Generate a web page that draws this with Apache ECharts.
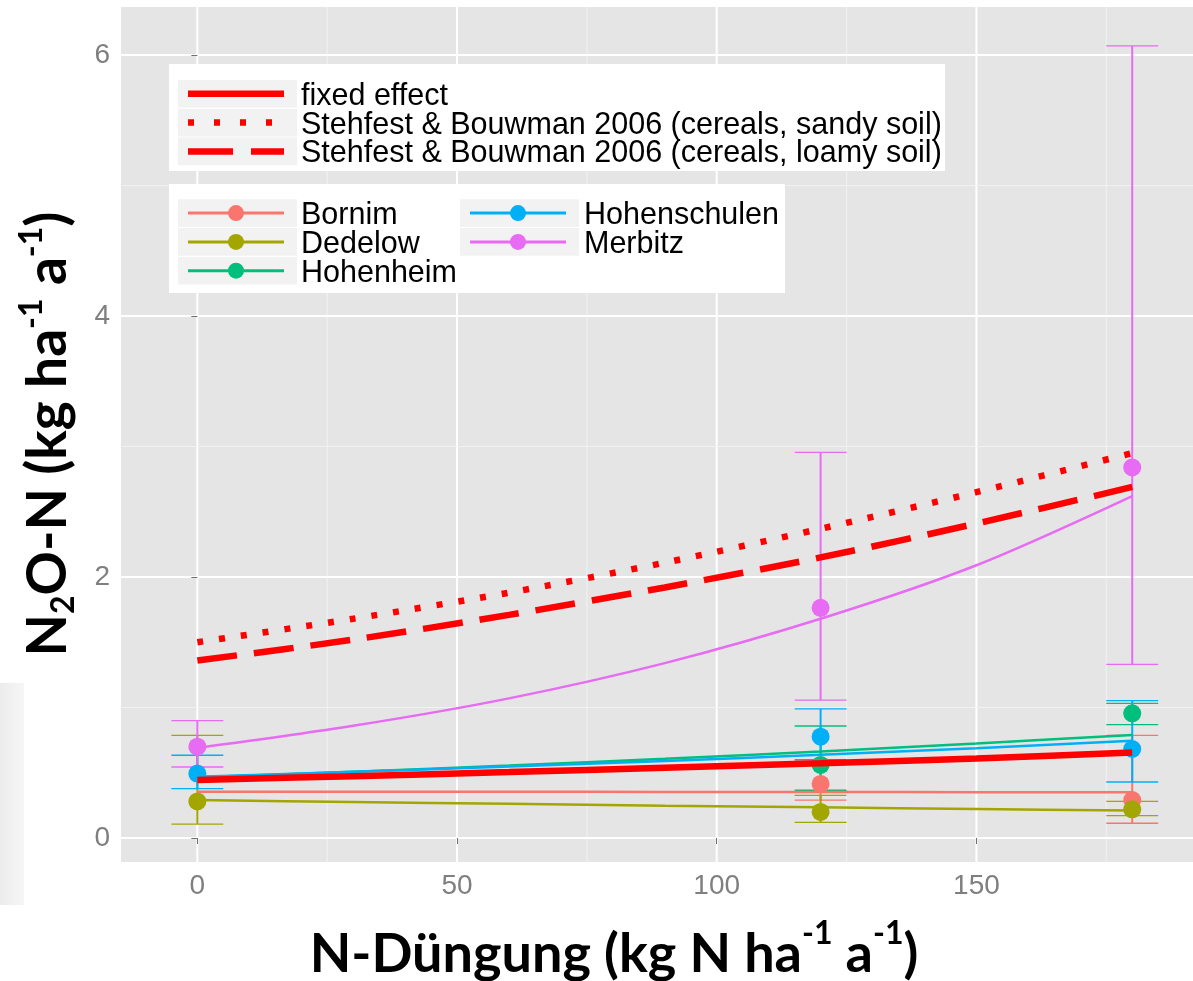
<!DOCTYPE html>
<html>
<head>
<meta charset="utf-8">
<script src="https://cdn.jsdelivr.net/npm/echarts@6/dist/echarts.min.js"></script>
<style>
html,body{margin:0;padding:0;background:#fff;}
#chart{width:1193px;height:981px;}
</style>
</head>
<body>
<div id="chart"></div>
<script>
// ---------- data ----------
const xTicks = [0, 50, 100, 150];
const xMinor = [25, 75, 125, 175];
const yTicks = [0, 2, 4, 6];
const yMinor = [1, 3, 5];

const fitX = [0, 30, 60, 90, 120, 150, 180];
const fixedEffect = [0.444, 0.474, 0.505, 0.538, 0.572, 0.610, 0.655];
const sandySoil   = [1.50, 1.68, 1.88, 2.11, 2.37, 2.65, 2.95];
const loamySoil   = [1.36, 1.52, 1.71, 1.92, 2.15, 2.41, 2.69];

const sites = ['Bornim', 'Dedelow', 'Hohenheim', 'Hohenschulen', 'Merbitz'];
const siteColors = ['#F8766D', '#A3A500', '#00BF7D', '#00B0F6', '#E76BF3'];

const fitBornim       = [0.355, 0.355, 0.354, 0.353, 0.352, 0.351, 0.350];
const fitDedelow      = [0.291, 0.276, 0.262, 0.248, 0.235, 0.222, 0.210];
const fitHohenheim    = [0.465, 0.508, 0.555, 0.607, 0.663, 0.725, 0.790];
const fitHohenschulen = [0.470, 0.507, 0.547, 0.590, 0.637, 0.688, 0.745];
const fitMerbitz      = [0.69, 0.86, 1.07, 1.34, 1.68, 2.09, 2.62];

// observations: N rate, mean, lower, upper
const obsBornimX = [120, 180];
const obsBornimY = [0.414, 0.291];
const obsBornimLo = [0.29, 0.113];
const obsBornimHi = [0.59, 0.787];

const obsDedelowX = [0, 120, 180];
const obsDedelowY = [0.28, 0.20, 0.22];
const obsDedelowLo = [0.107, 0.12, 0.171];
const obsDedelowHi = [0.787, 0.326, 0.281];

const obsHohenheimX = [120, 180];
const obsHohenheimY = [0.56, 0.955];
const obsHohenheimLo = [0.366, 0.868];
const obsHohenheimHi = [0.858, 1.032];

const obsHohenschulenX = [0, 120, 180];
const obsHohenschulenY = [0.494, 0.776, 0.682];
const obsHohenschulenLo = [0.378, 0.60, 0.429];
const obsHohenschulenHi = [0.634, 0.99, 1.052];

const obsMerbitzX = [0, 120, 180];
const obsMerbitzY = [0.70, 1.764, 2.84];
const obsMerbitzLo = [0.544, 1.057, 1.33];
const obsMerbitzHi = [0.899, 2.955, 6.07];

const fits = [fitBornim, fitDedelow, fitHohenheim, fitHohenschulen, fitMerbitz];
const obs = [
  [obsBornimX, obsBornimY, obsBornimLo, obsBornimHi],
  [obsDedelowX, obsDedelowY, obsDedelowLo, obsDedelowHi],
  [obsHohenheimX, obsHohenheimY, obsHohenheimLo, obsHohenheimHi],
  [obsHohenschulenX, obsHohenschulenY, obsHohenschulenLo, obsHohenschulenHi],
  [obsMerbitzX, obsMerbitzY, obsMerbitzLo, obsMerbitzHi]
];

// ---------- build ----------
const FONT = 'Liberation Sans, Arial, sans-serif';
const TITLE_FONT = 'Lato, Open Sans, sans-serif';
const CAP_HALF = 5; // half width of error bar caps in data units

function zipXY(xs, ys) { return xs.map((x, i) => [x, ys[i]]); }

const series = [];

// grid lines
series.push({
  type: 'custom', silent: true, z: 0,
  data: xTicks.map(v => [v, 2]).concat(xMinor.map(v => [v, 1])),
  encode: {x: 0},
  renderItem: (params, api) => {
    const cs = params.coordSys;
    const x = api.coord([api.value(0), 0])[0];
    const major = api.value(1) === 2;
    return {type: 'line', shape: {x1: x, y1: cs.y, x2: x, y2: cs.y + cs.height},
      style: {stroke: major ? '#ffffff' : '#f2f2f2', lineWidth: major ? 2 : 1}};
  }
});
series.push({
  type: 'custom', silent: true, z: 0,
  data: yTicks.map(v => [0, v, 2]).concat(yMinor.map(v => [0, v, 1])),
  encode: {y: 1},
  renderItem: (params, api) => {
    const cs = params.coordSys;
    const y = api.coord([0, api.value(1)])[1];
    const major = api.value(2) === 2;
    return {type: 'line', shape: {x1: cs.x, y1: y, x2: cs.x + cs.width, y2: y},
      style: {stroke: major ? '#ffffff' : '#f2f2f2', lineWidth: major ? 2 : 1}};
  }
});

// error bars
sites.forEach((s, i) => {
  const [xs, ys, lo, hi] = obs[i];
  const col = siteColors[i];
  series.push({
    type: 'custom', name: s + ' err', silent: true, z: 2 + i * 0.01,
    data: xs.map((x, k) => [x, ys[k], lo[k], hi[k]]),
    encode: {x: 0, y: [2, 3]},
    renderItem: (params, api) => {
      const x = api.value(0);
      const pLo = api.coord([x, api.value(2)]);
      const pHi = api.coord([x, api.value(3)]);
      const half = api.size([CAP_HALF, 0])[0];
      return {type: 'group', children: [
        {type: 'line', shape: {x1: pLo[0], y1: pLo[1], x2: pHi[0], y2: pHi[1]}, style: {stroke: col, lineWidth: 2}},
        {type: 'line', shape: {x1: pLo[0] - half, y1: pLo[1], x2: pLo[0] + half, y2: pLo[1]}, style: {stroke: col, lineWidth: 1.3}},
        {type: 'line', shape: {x1: pHi[0] - half, y1: pHi[1], x2: pHi[0] + half, y2: pHi[1]}, style: {stroke: col, lineWidth: 1.3}}
      ]};
    }
  });
});

// points
sites.forEach((s, i) => {
  const [xs, ys] = obs[i];
  series.push({
    type: 'scatter', name: s, z: 3 + i * 0.01, silent: true,
    symbol: 'circle', symbolSize: 18,
    itemStyle: {color: siteColors[i], opacity: 1},
    data: zipXY(xs, ys)
  });
});

// site fitted lines
sites.forEach((s, i) => {
  series.push({
    type: 'line', name: s + ' fit', z: 4 + i * 0.01, silent: true,
    showSymbol: false, symbol: 'none', smooth: 0.3,
    lineStyle: {color: siteColors[i], width: 2.5},
    data: zipXY(fitX, fits[i])
  });
});

// reference lines
series.push({
  type: 'line', name: 'fixed effect', z: 6, silent: true, symbol: 'none', smooth: 0.3,
  lineStyle: {color: '#ff0000', width: 6.5, cap: 'butt'},
  data: zipXY(fitX, fixedEffect)
});
series.push({
  type: 'line', name: 'sandy', z: 6, silent: true, symbol: 'none', smooth: 0.3,
  lineStyle: {color: '#ff0000', width: 6.5, type: [6, 16], cap: 'butt'},
  data: zipXY(fitX, sandySoil)
});
series.push({
  type: 'line', name: 'loamy', z: 6, silent: true, symbol: 'none', smooth: 0.3,
  lineStyle: {color: '#ff0000', width: 6.5, type: [40, 17], cap: 'butt'},
  data: zipXY(fitX, loamySoil)
});

// ---------- legend graphics ----------
const graphics = [];
// faint artifact at left edge
graphics.push({type: 'rect', left: 0, top: 683, shape: {width: 24, height: 222},
  style: {fill: {type: 'linear', x: 0, y: 0, x2: 1, y2: 0, colorStops: [{offset: 0, color: '#ececec'}, {offset: 1, color: '#f6f6f6'}]}}, z: 1});

// legend 1
graphics.push({type: 'rect', shape: {x: 169, y: 64, width: 776, height: 107}, style: {fill: '#ffffff'}, z: 50});
const leg1 = [
  {label: 'fixed effect', dash: null},
  {label: 'Stehfest & Bouwman 2006 (cereals, sandy soil)', dash: [6, 20]},
  {label: 'Stehfest & Bouwman 2006 (cereals, loamy soil)', dash: [45, 18]}
];
leg1.forEach((e, k) => {
  const top = 80 + k * 28.8;
  const cy = top + 13.8;
  graphics.push({type: 'rect', shape: {x: 178, y: top, width: 119, height: 27.6}, style: {fill: '#f2f2f2'}, z: 51});
  graphics.push({type: 'line', shape: {x1: 188, y1: cy, x2: 284, y2: cy},
    style: {stroke: '#ff0000', lineWidth: 6.5, lineDash: e.dash || null, lineCap: 'butt'}, z: 52});
  graphics.push({type: 'text', x: 301, y: cy + 2.5, z: 52,
    style: {text: e.label, fill: '#000', font: '30.5px ' + FONT, verticalAlign: 'middle'}});
});

// legend 2
graphics.push({type: 'rect', shape: {x: 169, y: 184, width: 616, height: 109}, style: {fill: '#ffffff'}, z: 50});
sites.forEach((s, i) => {
  const col = i < 3 ? 0 : 1;
  const row = i < 3 ? i : i - 3;
  const kx = col === 0 ? 178 : 460;
  const tx = col === 0 ? 301 : 584;
  const top = 199.3 + row * 28.8;
  const cy = top + 13.8;
  graphics.push({type: 'rect', shape: {x: kx, y: top, width: 119, height: 27.6}, style: {fill: '#f2f2f2'}, z: 51});
  graphics.push({type: 'line', shape: {x1: kx + 10, y1: cy, x2: kx + 106, y2: cy},
    style: {stroke: siteColors[i], lineWidth: 3}, z: 52});
  graphics.push({type: 'circle', shape: {cx: kx + 58, cy: cy, r: 8}, style: {fill: siteColors[i]}, z: 53});
  graphics.push({type: 'text', x: tx, y: cy + 2.5, z: 52,
    style: {text: s, fill: '#000', font: '30.5px ' + FONT, verticalAlign: 'middle'}});
});

// axis titles
graphics.push({type: 'text', x: 614, y: 950, z: 60,
  style: {
    text: '{m|N-Düngung (kg N ha}{s|-1}{m| a}{s|-1}{m|)}',
    align: 'center', verticalAlign: 'middle',
    rich: {
      m: {fontFamily: TITLE_FONT, fontWeight: 'bold', fontSize: 54, fill: '#000', lineHeight: 64, verticalAlign: 'bottom'},
      s: {fontFamily: TITLE_FONT, fontWeight: 'bold', fontSize: 32, fill: '#000', lineHeight: 32, verticalAlign: 'top'}
    }
  }
});
graphics.push({type: 'text', x: 48, y: 434, rotation: Math.PI / 2, z: 60,
  style: {
    text: '{m|N}{b|2}{m|O-N (kg ha}{s|-1}{m| a}{s|-1}{m|)}',
    align: 'center', verticalAlign: 'middle',
    rich: {
      m: {fontFamily: TITLE_FONT, fontWeight: 'bold', fontSize: 55, fill: '#000', lineHeight: 64, verticalAlign: 'middle'},
      s: {fontFamily: TITLE_FONT, fontWeight: 'bold', fontSize: 32, fill: '#000', lineHeight: 32, verticalAlign: 'top'},
      b: {fontFamily: TITLE_FONT, fontWeight: 'bold', fontSize: 32, fill: '#000', lineHeight: 32, verticalAlign: 'bottom'}
    }
  }
});

const option = {
  animation: false,
  backgroundColor: '#ffffff',
  grid: {left: 121, right: 0, top: 7, height: 855, show: true, backgroundColor: '#e5e5e5', borderWidth: 0, containLabel: false},
  xAxis: {
    type: 'value', min: -14.7, max: 191.7,
    axisLine: {show: false},
    splitLine: {show: false},
    axisTick: {show: true, length: 6, lineStyle: {color: '#6f6f6f', width: 1}, customValues: xTicks},
    axisLabel: {customValues: xTicks, color: '#7f7f7f', fontFamily: FONT, fontSize: 28, margin: 10}
  },
  yAxis: {
    type: 'value', min: -0.184, max: 6.368,
    axisLine: {show: false},
    splitLine: {show: false},
    axisTick: {show: true, length: 6, lineStyle: {color: '#6f6f6f', width: 1}, customValues: yTicks},
    axisLabel: {customValues: yTicks, color: '#7f7f7f', fontFamily: FONT, fontSize: 28, margin: 11}
  },
  series: series,
  graphic: graphics
};

const chart = echarts.init(document.getElementById('chart'), null, {renderer: 'canvas'});
chart.setOption(option);
</script>
</body>
</html>
